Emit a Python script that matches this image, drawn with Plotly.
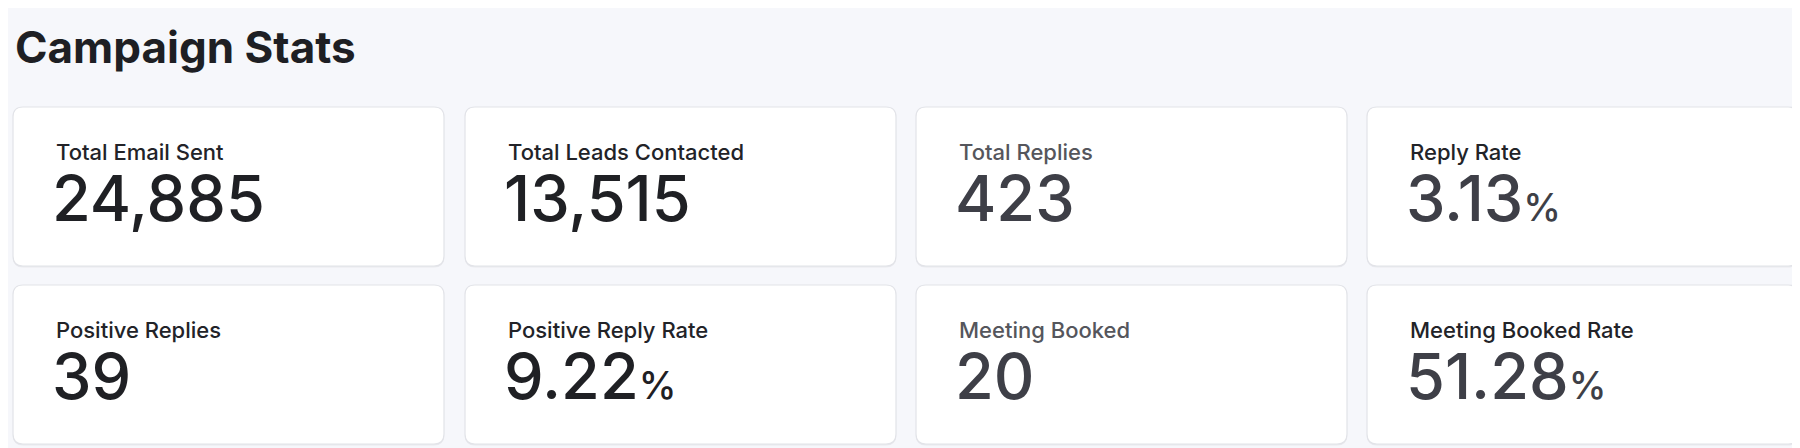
import plotly.graph_objects as go

title = "Campaign Stats"
labels = ["Total Email Sent", "Total Leads Contacted", "Total Replies", "Reply Rate",
          "Positive Replies", "Positive Reply Rate", "Meeting Booked", "Meeting Booked Rate"]
values = ["24,885", "13,515", "423", "3.13", "39", "9.22", "20", "51.28"]
is_pct = [False, False, False, True, False, True, False, True]

W, H = 1800, 448
col_x0 = [5, 457, 908, 1359]
card_w = 431
row_y0 = [99, 277]
card_h = 159


def rounded(x0, y0, w, h, r=10):
    x1, y1 = x0 + w, y0 + h
    return (f"M{x0+r},{y0} L{x1-r},{y0} Q{x1},{y0} {x1},{y0+r} L{x1},{y1-r} Q{x1},{y1} {x1-r},{y1} "
            f"L{x0+r},{y1} Q{x0},{y1} {x0},{y1-r} L{x0},{y0+r} Q{x0},{y0} {x0+r},{y0} Z")


fig = go.Figure()
fig.add_trace(go.Scatter(x=[0], y=[0], mode="markers", marker=dict(opacity=0), hoverinfo="skip", showlegend=False))

shapes, ann = [], []
for i, (lab, val, pct) in enumerate(zip(labels, values, is_pct)):
    r, c = divmod(i, 4)
    x0, y0 = col_x0[c], row_y0[r]
    shapes.append(dict(type="path", xref="x", yref="y", path=rounded(x0, y0 + 1.5, card_w, card_h),
                       fillcolor="#e9eaee", line=dict(width=0), layer="below"))
    shapes.append(dict(type="path", xref="x", yref="y", path=rounded(x0, y0, card_w, card_h),
                       fillcolor="white", line=dict(color="#e2e3e8", width=1.2), layer="below"))
    lab_col = "#55565c" if c == 2 else "#222328"
    val_col = "#3e3f47" if c in (2, 3) else "#1f2024"
    ann.append(dict(x=x0 + 41, y=y0 + 60, xref="x", yref="y", text=lab, showarrow=False,
                    xanchor="left", yanchor="bottom",
                    font=dict(family="Inter", size=22, color=lab_col, weight=500)))
    txt = val + ("<span style='font-size:38px'>%</span>" if pct else "")
    ann.append(dict(x=x0 + 37, y=y0 + 131, xref="x", yref="y", text=txt, showarrow=False,
                    xanchor="left", yanchor="bottom",
                    font=dict(family="Inter", size=63, color=val_col, weight=500)))

ann.append(dict(x=5, y=68, xref="x", yref="y", text="<b>" + title + "</b>", showarrow=False,
                xanchor="left", yanchor="bottom", font=dict(family="Inter", size=44, color="#1e1f24")))

fig.update_layout(width=W, height=H, margin=dict(l=0, r=0, t=0, b=0),
                  paper_bgcolor="#f6f7fb", plot_bgcolor="#f6f7fb",
                  xaxis=dict(range=[0, W], visible=False, fixedrange=True),
                  yaxis=dict(range=[H, 0], visible=False, fixedrange=True),
                  shapes=shapes, annotations=ann, showlegend=False)
fig.write_html("out.html", config={"displayModeBar": False})
